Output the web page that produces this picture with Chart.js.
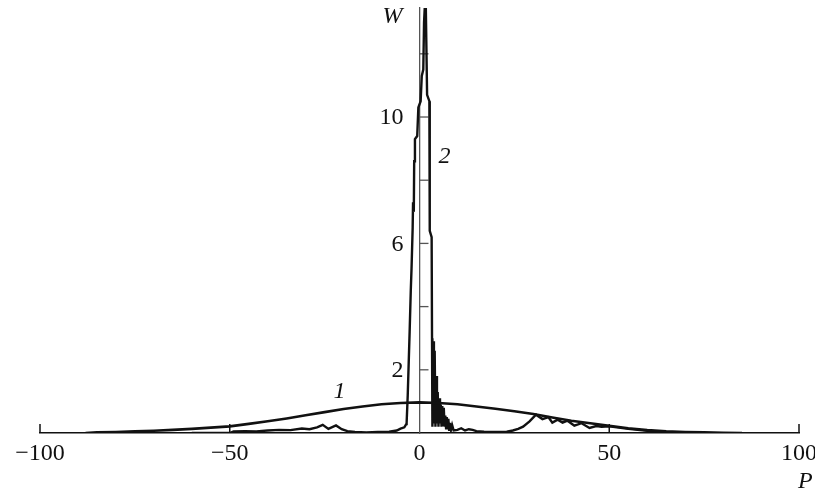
<!DOCTYPE html>
<html>
<head>
<meta charset="utf-8">
<script src="https://cdn.jsdelivr.net/npm/chart.js@4"></script>
<style>
  html, body { margin: 0; padding: 0; background: #fff; }
  #c { display: block; }
</style>
</head>
<body>
<canvas id="c" width="815" height="491"></canvas>
<script>
// ---- data ----
const curve1P = [-88, -85, -80, -75, -70, -65, -60, -55, -50, -45, -40, -35, -30, -25, -20, -15, -10, -5, 0, 5, 10, 15, 20, 25, 30, 35, 40, 45, 50, 55, 60, 65, 70, 75, 80, 85];
const curve1W = [0.0, 0.02, 0.03, 0.05, 0.07, 0.10, 0.13, 0.17, 0.21, 0.29, 0.37, 0.46, 0.56, 0.66, 0.76, 0.84, 0.91, 0.95, 0.97, 0.95, 0.91, 0.84, 0.77, 0.69, 0.60, 0.49, 0.39, 0.31, 0.23, 0.15, 0.09, 0.05, 0.03, 0.02, 0.01, 0.0];

const curve2P = [-60, -50, -49, -46, -43, -40, -37, -34, -31, -29, -27, -25.5, -24, -22, -20.5, -19, -17, -14, -11, -8, -6, -5, -4, -3.5,
  -3.4, -3.1, -2.9, -2.6, -2.3, -2.1, -1.8, -1.7, -1.5, -1.4, -1.2, -0.6, -0.3, 0.3, 0.6, 1.0, 1.2, 1.6,
  2.0, 2.6, 2.7, 3.2, 3.3,
  3.4, 3.6, 3.8, 4.0, 4.2, 4.4, 4.6, 4.8, 5.0, 5.2, 5.4, 5.6, 5.8, 6.0, 6.2, 6.4, 6.6, 6.8, 7.0, 7.2, 7.4, 7.6, 7.8, 8.0, 8.3, 8.6, 9.0,
  10, 11, 12, 13, 14, 15, 17, 19, 21, 23, 24.6, 26, 27.3, 29, 30.7, 32.4, 34, 35, 36.4, 37.7, 39, 40.8, 42.7, 44.8, 46.6, 48, 50, 55, 60, 65, 70, 75];
const curve2W = [0.0, 0.0, 0.05, 0.06, 0.05, 0.08, 0.10, 0.09, 0.14, 0.12, 0.18, 0.26, 0.13, 0.24, 0.12, 0.06, 0.03, 0.02, 0.03, 0.04, 0.08, 0.14, 0.18, 0.28,
  0.3, 1.2, 2.0, 3.2, 4.5, 5.2, 6.5, 7.3, 7.0, 8.6, 9.3, 9.4, 10.3, 10.5, 11.3, 11.5, 13.0, 14.0,
  10.7, 10.5, 6.4, 6.2, 3.0,
  0.2, 2.9, 0.3, 2.6, 0.2, 1.8, 0.3, 1.3, 0.2, 1.1, 0.3, 0.9, 0.2, 0.85, 0.25, 0.8, 0.2, 0.55, 0.15, 0.5, 0.15, 0.45, 0.1, 0.32, 0.1, 0.25, 0.08,
  0.1, 0.15, 0.08, 0.12, 0.1, 0.06, 0.04, 0.03, 0.03, 0.04, 0.08, 0.13, 0.2, 0.37, 0.58, 0.44, 0.50, 0.33, 0.42, 0.33, 0.39, 0.23, 0.31, 0.16, 0.22, 0.2, 0.21, 0.13, 0.07, 0.03, 0.01, 0.0];

const xTickValues = [-100, -50, 0, 50, 100];
const xTickLabels = ['\u2212100', '\u221250', '0', '50', '100'];
const xTickMarks = [-100, -50, 50, 100];
const yTickMarks = [2, 4, 6, 8, 10, 12];
const yTickValues = [2, 6, 10];
const yTickLabels = ['2', '6', '10'];
const curveLabels = [
  { text: '1', p: -21.1, w: 1.31 },
  { text: '2', p: 6.6, w: 8.74 }
];
const axisTitles = [
  { text: 'W', p: -7.1, w: 13.17 },
  { text: 'P', p: 101.7, w: -1.54 }
];
const xMin = -100, xMax = 100, yMin = 0, yMax = 13.45;

// ---- build ----
const toXY = (ps, ws) => ps.map((p, i) => ({ x: p, y: ws[i] }));
const FONT = "'Liberation Serif', 'Times New Roman', serif";

const decor = {
  id: 'decor',
  beforeDatasetsDraw(chart) {
    const { ctx, scales: { x, y } } = chart;
    const y0 = y.getPixelForValue(0);
    const x0 = x.getPixelForValue(0);
    ctx.save();
    ctx.strokeStyle = '#111';
    ctx.lineWidth = 1.5;
    xTickMarks.forEach(v => {
      const px = x.getPixelForValue(v);
      ctx.beginPath(); ctx.moveTo(px, y0); ctx.lineTo(px, y0 - 9); ctx.stroke();
    });
    ctx.strokeStyle = '#555';
    ctx.lineWidth = 1.3;
    yTickMarks.forEach(v => {
      const py = y.getPixelForValue(v);
      ctx.beginPath(); ctx.moveTo(x0, py); ctx.lineTo(x0 + 9, py); ctx.stroke();
    });
    // y tick labels, to the left of the centred axis
    ctx.fillStyle = '#111';
    ctx.font = '24px ' + FONT;
    ctx.textAlign = 'right';
    ctx.textBaseline = 'middle';
    yTickValues.forEach((v, i) => {
      ctx.fillText(yTickLabels[i], x0 - 16, y.getPixelForValue(v) + 1);
    });
    ctx.restore();
  },
  afterDraw(chart) {
    const { ctx, scales: { x, y } } = chart;
    ctx.save();
    ctx.fillStyle = '#111';
    ctx.font = 'italic 24px ' + FONT;
    ctx.textAlign = 'center';
    ctx.textBaseline = 'middle';
    curveLabels.concat(axisTitles).forEach(l => {
      ctx.fillText(l.text, x.getPixelForValue(l.p), y.getPixelForValue(l.w));
    });
    ctx.restore();
  }
};

new Chart(document.getElementById('c'), {
  type: 'line',
  data: {
    datasets: [
      { label: '1', data: toXY(curve1P, curve1W), borderColor: '#111', borderWidth: 2.6, pointRadius: 0, tension: 0, fill: false },
      { label: '2', data: toXY(curve2P, curve2W), borderColor: '#111', borderWidth: 2.4, pointRadius: 0, tension: 0, fill: false }
    ]
  },
  options: {
    responsive: false,
    animation: false,
    events: [],
    layout: { padding: { left: 40, right: 16, top: 8, bottom: 0 } },
    plugins: { legend: { display: false }, tooltip: { enabled: false } },
    scales: {
      x: {
        type: 'linear',
        position: 'bottom',
        min: xMin, max: xMax,
        afterBuildTicks(s) { s.ticks = xTickValues.map(v => ({ value: v })); },
        ticks: {
          autoSkip: false,
          maxRotation: 0,
          padding: 6,
          color: '#111',
          font: { family: FONT, size: 24 },
          callback(v) { const i = xTickValues.indexOf(v); return i >= 0 ? xTickLabels[i] : null; }
        },
        grid: { display: true, drawOnChartArea: false, drawTicks: false },
        border: { display: true, color: '#111', width: 1.6 },
        afterFit(s) { s.height = 58; s.paddingLeft = 0; s.paddingRight = 0; }
      },
      y: {
        type: 'linear',
        position: { x: 0 },
        min: yMin, max: yMax,
        ticks: { display: false },
        grid: { display: true, drawOnChartArea: false, drawTicks: false },
        border: { display: true, color: '#555', width: 1.3 },
        afterFit(s) { s.width = 0; s.paddingTop = 0; s.paddingBottom = 0; }
      }
    }
  },
  plugins: [decor]
});
</script>
</body>
</html>
